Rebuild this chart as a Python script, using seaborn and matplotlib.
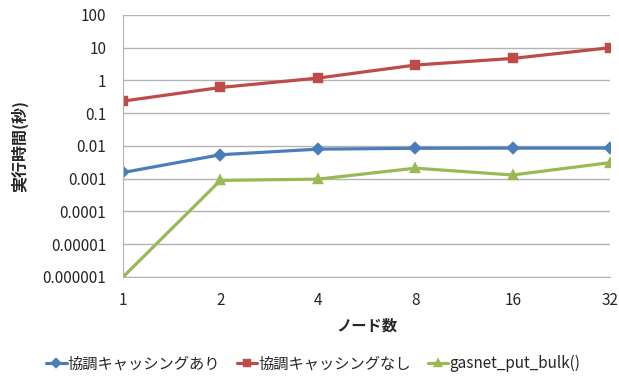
import pandas as pd
import matplotlib.pyplot as plt
import seaborn as sns
import numpy as np
from matplotlib.ticker import FixedLocator, FuncFormatter, NullLocator

# values (seconds)
nodes = ['1', '2', '4', '8', '16', '32']
with_cache = [0.00155, 0.0054, 0.0080, 0.0085, 0.0086, 0.0086]
without_cache = [0.234, 0.61, 1.18, 2.95, 4.7, 10.0]
gasnet = [0.000001, 0.00089, 0.00097, 0.0021, 0.0013, 0.0031]
series_names = ['協調キャッシングあり', '協調キャッシングなし', 'gasnet_put_bulk()']

df = pd.DataFrame({
    'nodes': nodes * 3,
    'time': with_cache + without_cache + gasnet,
    'series': np.repeat(series_names, len(nodes)),
})

sns.set_style('white')
plt.rcParams['font.family'] = ['Noto Sans CJK JP', 'DejaVu Sans']

fig = plt.figure(figsize=(6.19, 3.76), dpi=100)
ax = fig.add_axes([0.1987, 0.2633, 0.787, 0.697])

palette = ['#4a7ebb', '#be4b48', '#98b954']
sns.pointplot(data=df, x='nodes', y='time', hue='series', order=nodes,
              hue_order=series_names, palette=palette, markers=['D', 's', '^'],
              linestyles='-', errorbar=None, ax=ax, markersize=6, linewidth=2.3)
# shrink the diamond a bit
for line in ax.lines:
    if line.get_marker() == 'D':
        line.set_markersize(5)

ax.set_yscale('log')
ax.set_ylim(1e-6, 100)
ax.set_xlim(0, 5)
yt = [10.0 ** k for k in range(-6, 3)]
ax.yaxis.set_major_locator(FixedLocator(yt))
ax.yaxis.set_minor_locator(NullLocator())
ax.yaxis.set_major_formatter(FuncFormatter(lambda v, p: np.format_float_positional(v, trim='-')))
ax.grid(axis='y', color='#b3b3b3', linewidth=1)
ax.set_axisbelow(True)

for s in ['top', 'right']:
    ax.spines[s].set_visible(False)
ax.spines['left'].set_color('#b3b3b3')
ax.spines['bottom'].set_color('#b3b3b3')
ax.tick_params(axis='x', length=5, color='#b3b3b3', direction='out', labelsize=11, pad=6)
ax.tick_params(axis='y', length=0, labelsize=11, pad=12)

ax.set_xlabel('ノード数', fontsize=11, fontweight='bold', labelpad=6)
ax.set_ylabel('実行時間(秒)', fontsize=11.5, fontweight='bold', labelpad=10)

leg = ax.legend(loc='upper center', bbox_to_anchor=(0.39, -0.245), ncol=3, frameon=False,
                fontsize=11, handlelength=1.35, handletextpad=0.05, columnspacing=1.1,
                title=None, markerscale=0.75)

fig.savefig('out.png', dpi=100)
